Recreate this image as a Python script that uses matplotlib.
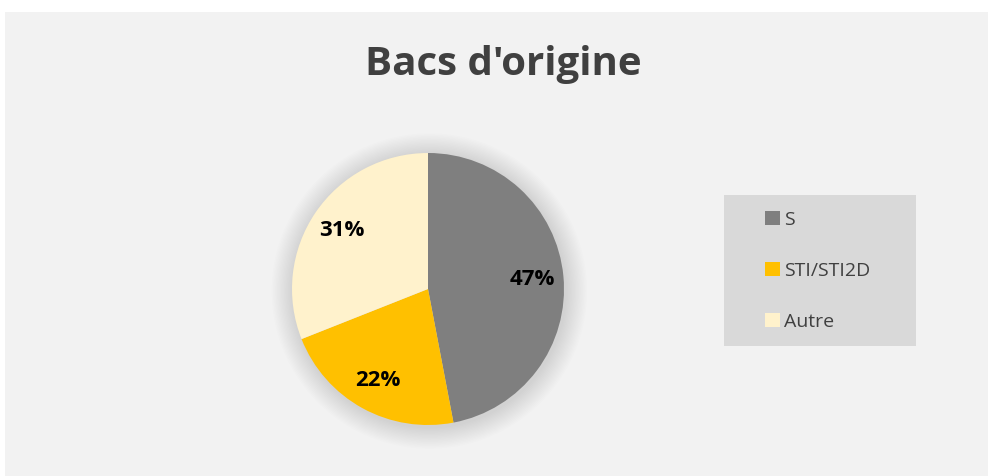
import matplotlib

matplotlib.use("Agg")
import matplotlib.pyplot as plt
from matplotlib.patches import Rectangle, Circle

plt.rcParams["font.family"] = ["Open Sans", "DejaVu Sans"]

# data
categories = ["S", "STI/STI2D", "Autre"]
shares = [47, 22, 31]
colors = ["#7f7f7f", "#ffc000", "#fff2cc"]
title = "Bacs d'origine"

W, H = 988, 476
fig = plt.figure(figsize=(W / 100, H / 100), dpi=100)
fig.patch.set_facecolor("white")

# chart area background
fig.patches.append(Rectangle((5 / W, 0), 1 - 5 / W, 1 - 12 / H, transform=fig.transFigure,
                             facecolor="#f2f2f2", edgecolor="none", zorder=-2))

fig.text(503 / W, 1 - 65 / H, title, ha="center", va="center", fontsize=29,
         fontweight="bold", color="#404040")

# pie axes: center (428, 289) px, radius 136 px
r = 136
half = 1.3 * r
ax = fig.add_axes([(428 - half) / W, (H - 289 - half) / H, 2 * half / W, 2 * half / H])

# soft shadow
for i in range(16):
    rad = 1.0 + 0.01 * (16 - i)
    ax.add_patch(Circle((0.01, -0.015), rad, facecolor="#000000", alpha=0.008,
                        edgecolor="none", zorder=0))

wedges, texts = ax.pie(shares, colors=colors, startangle=90, counterclock=False,
                       radius=1.0, labels=[f"{v}%" for v in shares],
                       labeldistance=0.77, wedgeprops={"linewidth": 0})
for t in texts:
    t.set_ha("center")
    t.set_va("center")
    t.set_fontsize(16)
    t.set_fontweight("bold")
    t.set_color("black")
for w in wedges:
    w.set_zorder(2)
ax.set_xlim(-1.3, 1.3)
ax.set_ylim(-1.3, 1.3)
ax.set_aspect("equal")
ax.axis("off")

# legend box
fig.patches.append(Rectangle((724 / W, 1 - 346 / H), 192 / W, 151 / H, transform=fig.transFigure,
                             facecolor="#d9d9d9", edgecolor="none", zorder=-1))
leg = fig.legend(wedges, categories, loc="center left", bbox_to_anchor=(765 / W, 1 - 271 / H),
                 frameon=False, fontsize=14, handlelength=0.75, handleheight=0.75,
                 handletextpad=0.25, labelspacing=1.7, borderpad=0, borderaxespad=0)
for t in leg.get_texts():
    t.set_color("#404040")

fig.savefig("out.png", dpi=100)
plt.close(fig)
